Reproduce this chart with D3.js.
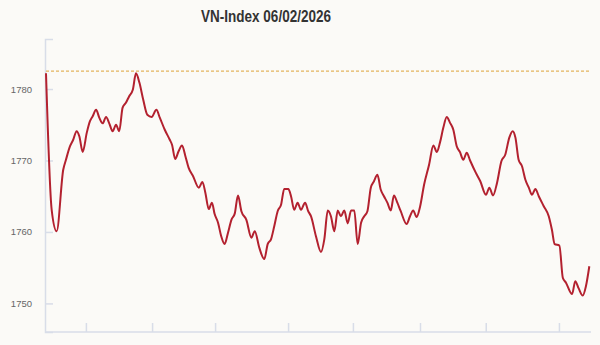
<!DOCTYPE html>
<html>
<head>
<meta charset="utf-8">
<script src="https://cdn.jsdelivr.net/npm/d3@7"></script>
<style>
  body { margin: 0; background: #fbfaf7; }
  svg { display: block; font-family: "Liberation Sans", Arial, sans-serif; }
</style>
</head>
<body>
<div id="chart"></div>
<script>
// VN-Index trong phiên (phút giao dịch tính từ lúc mở cửa)

let title = 'VN-Index 06/02/2026';
let ref_value = 1782.5; // đường tham chiếu (nét đứt)

let times = [
    0, 2.5, 4.7, 7.6, 8.8, 10.6, 12.0, 13.5, 14.7, 16.2,
    18.0, 19.4, 20.6, 22.1, 23.5, 25.0, 26.5, 27.9, 29.4, 30.9,
    32.3, 33.8, 35.3, 36.7, 38.3, 39.7, 41.2, 42.9, 44.7, 46.6,
    48.7, 50.2, 52.4, 54.6, 55.6, 57.0, 58.5, 60.0, 61.5, 62.9,
    64.9, 67.4, 69.0, 70.3, 71.8, 73.2, 74.4, 75.9, 77.3, 78.8,
    80.3, 81.8, 83.3, 84.7, 86.2, 88.4, 90.6, 92.1, 94.1, 96.3,
    97.8, 99.3, 100.7, 102.2, 103.7, 105.1, 106.9, 108.1, 109.5, 111.0,
    112.5, 114.3, 115.7, 116.9, 119.1, 121.3, 122.8, 124.3, 125.7, 127.2,
    128.7, 130.1, 131.6, 133.1, 134.6, 136.0, 137.5, 139.0, 140.4, 141.8,
    143.3, 144.7, 146.2, 147.7, 149.1, 150.6, 152.1, 153.5, 155.0, 156.5,
    159.1, 160.6, 162.0, 163.5, 165.0, 166.8, 169.0, 170.9, 172.4, 173.8,
    175.3, 176.8, 178.2, 179.7, 181.2, 182.6, 184.1, 185.6, 187.1, 189.6,
    191.6, 194.1, 195.6, 197.2, 199.0, 200.9, 202.6, 204.4, 205.9, 207.1,
    208.5, 210.0, 211.5, 213.0, 214.4, 215.9, 217.4, 219.6, 221.8, 223.2,
    224.4, 226.5, 228.0, 229.4, 232.1, 233.5, 235.0, 236.8, 238.2, 239.7
];

let values = [
    1782.2, 1763.1, 1760.1, 1768.7, 1770.1, 1772.0, 1772.9, 1774.1, 1773.4, 1771.2,
    1773.9, 1775.5, 1776.2, 1777.1, 1776.0, 1775.2, 1776.1, 1775.2, 1774.1, 1775.0,
    1774.1, 1777.4, 1778.1, 1779.0, 1779.9, 1782.2, 1780.9, 1778.5, 1776.4, 1776.1,
    1777.1, 1776.0, 1774.3, 1772.9, 1772.2, 1770.2, 1771.3, 1772.1, 1770.6, 1769.0,
    1767.8, 1766.2, 1767.0, 1765.5, 1763.2, 1764.1, 1762.5, 1761.3, 1759.4, 1758.3,
    1759.9, 1761.7, 1762.6, 1765.1, 1762.9, 1761.7, 1759.2, 1760.1, 1757.8, 1756.2,
    1758.3, 1759.0, 1760.8, 1762.9, 1763.8, 1766.0, 1766.0, 1765.0, 1763.1, 1764.1,
    1763.1, 1764.1, 1762.9, 1762.2, 1759.4, 1757.2, 1759.0, 1763.0, 1762.2, 1760.1,
    1763.0, 1762.2, 1763.0, 1761.2, 1763.0, 1763.0, 1758.3, 1761.3, 1762.2, 1762.9,
    1766.2, 1767.1, 1768.0, 1765.9, 1765.0, 1764.1, 1763.0, 1765.1, 1764.1, 1762.9,
    1761.1, 1762.2, 1763.0, 1762.1, 1763.5, 1766.6, 1769.4, 1772.1, 1771.2, 1772.5,
    1774.6, 1776.1, 1775.3, 1774.3, 1772.0, 1771.2, 1770.1, 1771.1, 1770.0, 1768.3,
    1767.1, 1765.2, 1766.2, 1765.1, 1766.9, 1769.9, 1770.8, 1773.2, 1774.1, 1773.2,
    1770.1, 1769.2, 1767.3, 1766.2, 1765.2, 1766.0, 1765.0, 1763.6, 1762.2, 1760.3,
    1758.3, 1758.1, 1753.6, 1752.9, 1751.3, 1753.1, 1752.1, 1751.1, 1752.4, 1755.2
];

let y_ticks = [1750, 1760, 1770, 1780];
let x_ticks = [17.6, 46.8, 74.6, 106.8, 135.4, 165, 194, 226.3];

let width = 600;
let height = 345;
let margin = {top: 39, right: 10, bottom: 13, left: 45};

let data = times.map((t, i) => ({t: t, v: values[i]}));

let svg = d3.select('#chart')
    .append('svg')
    .attr('width', width)
    .attr('height', height);

svg.append('rect')
    .attr('width', width)
    .attr('height', height)
    .attr('fill', '#fbfaf7');

// Escalas
let x_scale = d3.scaleLinear()
    .domain([0, 240])
    .range([margin.left + 1, width - margin.right]);

let y_scale = d3.scaleLinear()
    .domain([1746, 1787])
    .range([height - margin.bottom, margin.top]);

// Tiêu đề
svg.append('text')
    .attr('x', 266)
    .attr('y', 22)
    .attr('text-anchor', 'middle')
    .attr('font-size', 17)
    .attr('font-weight', 'bold')
    .attr('fill', '#333')
    .attr('textLength', 130)
    .attr('lengthAdjust', 'spacingAndGlyphs')
    .text(title);

// Trục Y
let y_axis = d3.axisLeft(y_scale)
    .tickValues(y_ticks)
    .tickSize(-8)
    .tickPadding(13)
    .tickFormat(d => d);

let gy = svg.append('g')
    .attr('transform', 'translate(' + margin.left + ',0)')
    .call(y_axis);
gy.select('.domain').attr('stroke', '#d8dde8').attr('stroke-width', 1.5);
gy.selectAll('.tick line').attr('stroke', '#d8dde8').attr('stroke-width', 1.5);
gy.selectAll('.tick text')
    .attr('fill', '#666')
    .attr('font-size', 9.5)
    .attr('font-family', '"Liberation Sans", Arial, sans-serif');

// Trục X
let x_axis = d3.axisBottom(x_scale)
    .tickValues(x_ticks)
    .tickSize(-9)
    .tickFormat('');

let gx = svg.append('g')
    .attr('transform', 'translate(0,' + (height - margin.bottom) + ')')
    .call(x_axis);
gx.select('.domain')
    .attr('d', 'M' + margin.left + ',0H' + (width - margin.right + 1))
    .attr('stroke', '#d8dde8').attr('stroke-width', 1.5);
gx.selectAll('.tick line').attr('stroke', '#d8dde8').attr('stroke-width', 1.5);

// Đường tham chiếu
svg.append('line')
    .attr('x1', x_scale(0))
    .attr('x2', x_scale(240))
    .attr('y1', y_scale(ref_value))
    .attr('y2', y_scale(ref_value))
    .attr('stroke', '#e3b45e')
    .attr('stroke-width', 1.2)
    .attr('stroke-dasharray', '3,2');

// Đường giá
let line = d3.line()
    .x(d => x_scale(d.t))
    .y(d => y_scale(d.v))
    .curve(d3.curveMonotoneX);

svg.append('path')
    .datum(data)
    .attr('fill', 'none')
    .attr('stroke', '#b3212f')
    .attr('stroke-width', 2)
    .attr('stroke-linejoin', 'round')
    .attr('d', line);
</script>
</body>
</html>
